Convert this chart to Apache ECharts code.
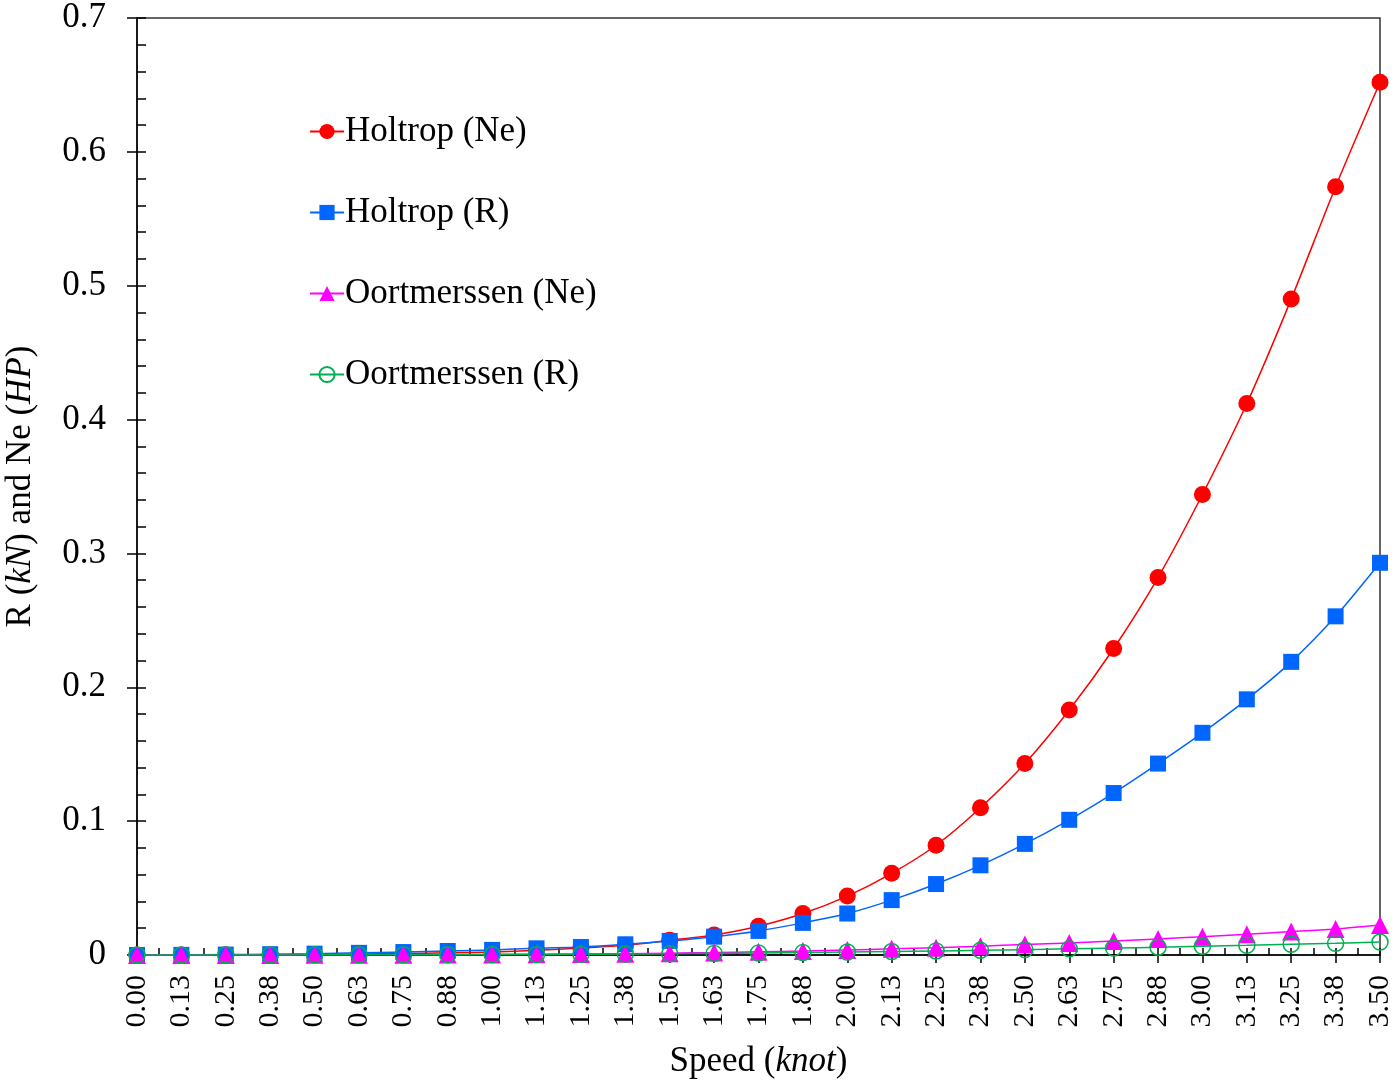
<!DOCTYPE html>
<html>
<head>
<meta charset="utf-8">
<script src="https://cdn.jsdelivr.net/npm/echarts@6/dist/echarts.min.js"></script>
<style>html,body{margin:0;padding:0;background:#fff}#c{width:1400px;height:1084px}</style>
</head>
<body>
<div id="c"></div>
<script>
var speeds = ['0.00','0.13','0.25','0.38','0.50','0.63','0.75','0.88','1.00','1.13','1.25','1.38','1.50','1.63','1.75','1.88','2.00','2.13','2.25','2.38','2.50','2.63','2.75','2.88','3.00','3.13','3.25','3.38','3.50'];
var holtropNe = [0, 0, 0.0001, 0.0002, 0.0004, 0.0007, 0.0011, 0.0016, 0.0023, 0.0035, 0.0052, 0.0072, 0.011, 0.015, 0.0215, 0.031, 0.044, 0.061, 0.082, 0.110, 0.143, 0.183, 0.229, 0.282, 0.344, 0.412, 0.490, 0.574, 0.652];
var holtropR = [0, 0.0001, 0.0003, 0.0006, 0.001, 0.0016, 0.0022, 0.003, 0.0038, 0.005, 0.006, 0.008, 0.0105, 0.0137, 0.018, 0.024, 0.031, 0.041, 0.053, 0.067, 0.083, 0.101, 0.121, 0.143, 0.166, 0.191, 0.219, 0.253, 0.293];
var oortNe = [0, 0, 0, 0, 0.0001, 0.0001, 0.0002, 0.0003, 0.0004, 0.0006, 0.0008, 0.001, 0.0014, 0.0018, 0.0024, 0.003, 0.0037, 0.0046, 0.0055, 0.0066, 0.0078, 0.009, 0.0105, 0.012, 0.0137, 0.0155, 0.0175, 0.0194, 0.0224];
var oortR = [0, 0, 0, 0, 0.0001, 0.0001, 0.0002, 0.0002, 0.0003, 0.0004, 0.0005, 0.0007, 0.0009, 0.0012, 0.0015, 0.0018, 0.0022, 0.0026, 0.003, 0.0035, 0.004, 0.0046, 0.0052, 0.0058, 0.0065, 0.0072, 0.008, 0.0087, 0.0097];
var seriesNames = ['Holtrop (Ne)', 'Holtrop (R)', 'Oortmerssen (Ne)', 'Oortmerssen (R)'];

var FONT = 'Liberation Serif';
var chart = echarts.init(document.getElementById('c'));
function mk(name, data, color, symbol, size, extra) {
  var s = {
    name: name, type: 'line', data: data, xAxisIndex: 0, yAxisIndex: 0,
    symbol: symbol, symbolSize: size, smooth: 0.25,
    lineStyle: {color: color, width: 1.5},
    itemStyle: {color: color},
    emphasis: {disabled: true},
    animation: false
  };
  if (extra) Object.assign(s, extra);
  return s;
}
chart.setOption({
  backgroundColor: '#fff',
  animation: false,
  textStyle: {fontFamily: FONT},
  grid: {left: 137, right: 20, top: 18, bottom: 129, outerBoundsMode: 'none', containLabel: false,
    show: true, borderColor: '#333', borderWidth: 1.5, backgroundColor: 'transparent'},
  legend: {
    orient: 'vertical', left: 304, top: 109, itemGap: 46, itemWidth: 34, itemHeight: 19,
    textStyle: {fontFamily: FONT, fontSize: 35, color: '#000', padding: [0,0,0,-4]},
    data: seriesNames
  },
  xAxis: [{
    type: 'category', data: speeds, boundaryGap: false,
    axisLine: {lineStyle: {color: '#000', width: 1.5}},
    axisTick: {show: true, inside: false, length: 8, lineStyle: {color: '#000', width: 1.5}},
    axisLabel: {rotate: 90, fontFamily: FONT, fontSize: 30, color: '#000', margin: 20, interval: 0},
    splitLine: {show: false},
    name: '{a|Speed (}{b|knot}{a|)}', nameLocation: 'middle', nameGap: 89,
    nameTextStyle: {rich: {a: {fontFamily: FONT, fontSize: 35, color: '#000'}, b: {fontFamily: FONT, fontSize: 35, fontStyle: 'italic', color: '#000'}}}
  }, {
    type: 'value', min: 0, max: 3.5, interval: 0.0625, position: 'bottom',
    axisLine: {show: false}, axisLabel: {show: false}, splitLine: {show: false},
    axisTick: {show: true, inside: true, length: 7, lineStyle: {color: '#000', width: 1.5}}
  }],
  yAxis: [{
    type: 'value', min: 0, max: 0.7, interval: 0.1,
    axisLine: {show: true, lineStyle: {color: '#000', width: 1.5}},
    axisTick: {show: true, inside: false, length: 10, lineStyle: {color: '#000', width: 1.5}},
    axisLabel: {fontFamily: FONT, fontSize: 35, color: '#000', margin: 31,
      formatter: function (v) { return v === 0 ? '0' : v.toFixed(1); }},
    splitLine: {show: false},
    name: '{a|R (}{b|kN}{a|) and Ne (}{b|HP}{a|)}', nameLocation: 'middle', nameGap: 99, nameRotate: 90,
    nameTextStyle: {rich: {a: {fontFamily: FONT, fontSize: 35, color: '#000'}, b: {fontFamily: FONT, fontSize: 35, fontStyle: 'italic', color: '#000'}}}
  }, {
    type: 'value', min: 0, max: 0.7, interval: 0.02, position: 'left',
    axisLine: {show: false}, axisLabel: {show: false}, splitLine: {show: false},
    axisTick: {show: true, inside: true, length: 9, lineStyle: {color: '#000', width: 1.5}}
  }],
  series: [
    mk(seriesNames[0], holtropNe, '#FF0000', 'circle', 17),
    mk(seriesNames[1], holtropR, '#0066FF', 'rect', 16),
    mk(seriesNames[2], oortNe, '#FF00FF', 'triangle', 18),
    mk(seriesNames[3], oortR, '#00B050', 'circle', 16, {
      itemStyle: {color: 'rgba(255,255,255,0)', borderColor: '#00B050', borderWidth: 1.5}
    })
  ]
});
</script>
</body>
</html>
